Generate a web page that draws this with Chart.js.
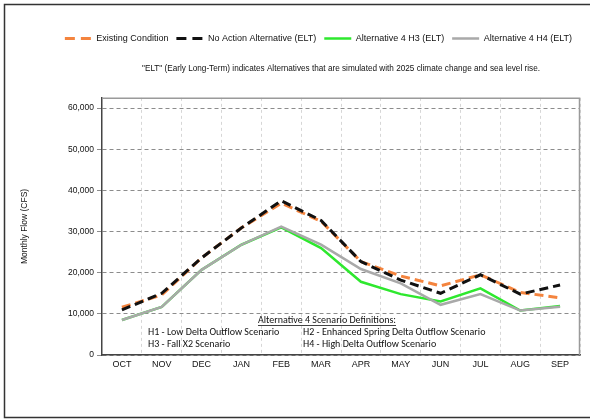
<!DOCTYPE html>
<html>
<head>
<meta charset="utf-8">
<script src="https://cdn.jsdelivr.net/npm/chart.js@4"></script>
<style>
  html, body { margin: 0; padding: 0; background: #fff; overflow: hidden; }
  #wrap { width: 590px; height: 420px; position: relative; }
</style>
</head>
<body>
<div id="wrap"><canvas id="flowChart" width="590" height="420"></canvas></div>
<script>
// Monthly flow values (CFS)
const months = ['OCT', 'NOV', 'DEC', 'JAN', 'FEB', 'MAR', 'APR', 'MAY', 'JUN', 'JUL', 'AUG', 'SEP'];
const existingCondition = [11600, 14600, 23600, 30900, 36900, 32500, 22700, 19200, 16800, 19500, 15200, 13900];
const noActionAlt = [10950, 15000, 23600, 30900, 37500, 32700, 22700, 18200, 15000, 19500, 14800, 17000];
const alt4H3 = [8500, 11700, 20700, 26800, 31000, 26000, 17800, 14800, 13000, 16200, 10800, 11900];
const alt4H4 = [8500, 11700, 20700, 26800, 31200, 26800, 20900, 17400, 12200, 14800, 10800, 11700];
const yTicks = [0, 10000, 20000, 30000, 40000, 50000, 60000];

const subtitleText = '"ELT" (Early Long-Term) indicates Alternatives that are simulated with 2025 climate change and sea level rise.';
const noteTitle = 'Alternative 4 Scenario Definitions:';
const noteLines = [
    ['H1 - Low Delta Outflow Scenario', 'H2 - Enhanced Spring Delta Outflow Scenario'],
    ['H3 - Fall X2 Scenario', 'H4 - High Delta Outflow Scenario']
];

const baseFont = "'Liberation Sans', Arial, sans-serif";
const noteFont = "Carlito, 'Liberation Sans Narrow', 'Liberation Sans', sans-serif";

// Frame, plot border and scenario notes
const extras = {
    id: 'extras',
    beforeDraw(chart) {
        const ctx = chart.ctx;
        ctx.save();
        ctx.strokeStyle = '#333';
        ctx.lineWidth = 1.5;
        ctx.beginPath();
        ctx.moveTo(600, 4.5);
        ctx.lineTo(4.5, 4.5);
        ctx.lineTo(4.5, 417.5);
        ctx.lineTo(600, 417.5);
        ctx.stroke();
        ctx.restore();
    },
    afterDatasetsDraw(chart) {
        const ctx = chart.ctx;
        const a = chart.chartArea;
        ctx.save();
        // top/right border of the plot
        ctx.strokeStyle = '#9a9a9a';
        ctx.lineWidth = 1.5;
        ctx.beginPath();
        ctx.moveTo(a.left, a.top + 0.5);
        ctx.lineTo(a.right - 0.5, a.top + 0.5);
        ctx.lineTo(a.right - 0.5, a.bottom);
        ctx.stroke();

        // scenario notes
        ctx.fillStyle = '#111';
        ctx.font = '10px ' + noteFont;
        ctx.textBaseline = 'middle';
        ctx.textAlign = 'left';
        const cx = a.left + 225;
        const tw = ctx.measureText(noteTitle).width;
        const ty = a.bottom - 35;
        ctx.fillText(noteTitle, cx - tw / 2, ty);
        ctx.strokeStyle = '#111';
        ctx.lineWidth = 0.8;
        ctx.beginPath();
        ctx.moveTo(cx - tw / 2, ty + 5.5);
        ctx.lineTo(cx + tw / 2, ty + 5.5);
        ctx.stroke();
        noteLines.forEach((row, i) => {
            const y = ty + 12 + i * 12;
            ctx.fillText(row[0], a.left + 46, y);
            ctx.fillText(row[1], a.left + 201, y);
        });
        ctx.restore();
    }
};

new Chart(document.getElementById('flowChart'), {
    type: 'line',
    data: {
        labels: months,
        datasets: [
            {
                label: 'Existing Condition',
                data: existingCondition,
                borderColor: '#f4843e',
                backgroundColor: '#f4843e',
                borderWidth: 3,
                borderDash: [9, 5],
                order: 3
            },
            {
                label: 'No Action Alternative (ELT)',
                data: noActionAlt,
                borderColor: '#111111',
                backgroundColor: '#111111',
                borderWidth: 3,
                borderDash: [9, 5],
                order: 0
            },
            {
                label: 'Alternative 4 H3 (ELT)',
                data: alt4H3,
                borderColor: '#2ee82e',
                backgroundColor: '#2ee82e',
                borderWidth: 2.5,
                order: 2
            },
            {
                label: 'Alternative 4 H4 (ELT)',
                data: alt4H4,
                borderColor: '#a9a9a9',
                backgroundColor: '#a9a9a9',
                borderWidth: 2.5,
                order: 1
            }
        ]
    },
    options: {
        responsive: false,
        animation: false,
        events: [],
        elements: {
            point: { radius: 0 },
            line: { tension: 0 }
        },
        layout: { padding: { top: 26, right: 10, bottom: 51, left: 14 } },
        plugins: {
            legend: {
                position: 'top',
                align: 'end',
                labels: {
                    usePointStyle: true,
                    pointStyle: 'line',
                    pointStyleWidth: 27,
                    boxHeight: 9,
                    padding: 8,
                    color: '#111',
                    font: { family: baseFont, size: 9 },
                    sort: (a, b) => a.datasetIndex - b.datasetIndex,
                    generateLabels(chart) {
                        const items = Chart.defaults.plugins.legend.labels.generateLabels(chart);
                        items.forEach(item => {
                            const ds = chart.data.datasets[item.datasetIndex];
                            item.lineDash = ds.borderDash ? [10, 6] : [];
                            item.lineWidth = ds.borderWidth;
                        });
                        return items;
                    }
                }
            },
            subtitle: {
                display: true,
                text: subtitleText,
                fullSize: false,
                weight: 500,
                color: '#111',
                font: { family: baseFont, size: 8.2 },
                padding: { top: 11, bottom: 24 }
            },
            tooltip: { enabled: false }
        },
        scales: {
            x: {
                offset: true,
                grid: {
                    offset: true,
                    color: '#d6d6d6',
                    tickLength: 0
                },
                border: { color: '#444', width: 1.5, dash: [3, 3] },
                ticks: {
                    color: '#111',
                    font: { family: baseFont, size: 9 },
                    padding: 4,
                    maxRotation: 0
                },
                afterFit(scale) { scale.height = 14; }
            },
            y: {
                min: 0,
                max: 62500,
                grid: {
                    color: '#8c8c8c',
                    tickLength: 5
                },
                border: { color: '#444', width: 1.5, dash: [4, 3] },
                ticks: {
                    color: '#111',
                    padding: 3,
                    font: { family: baseFont, size: 8.5 },
                    callback: v => v.toLocaleString('en-US')
                },
                afterBuildTicks(scale) {
                    scale.ticks = yTicks.map(v => ({ value: v }));
                },
                title: {
                    display: true,
                    text: 'Monthly Flow (CFS)',
                    color: '#111',
                    font: { family: baseFont, size: 8.5 },
                    padding: { top: 6, bottom: 18 }
                },
                afterFit(scale) { scale.width = 88; }
            }
        }
    },
    plugins: [extras]
});
</script>
</body>
</html>
